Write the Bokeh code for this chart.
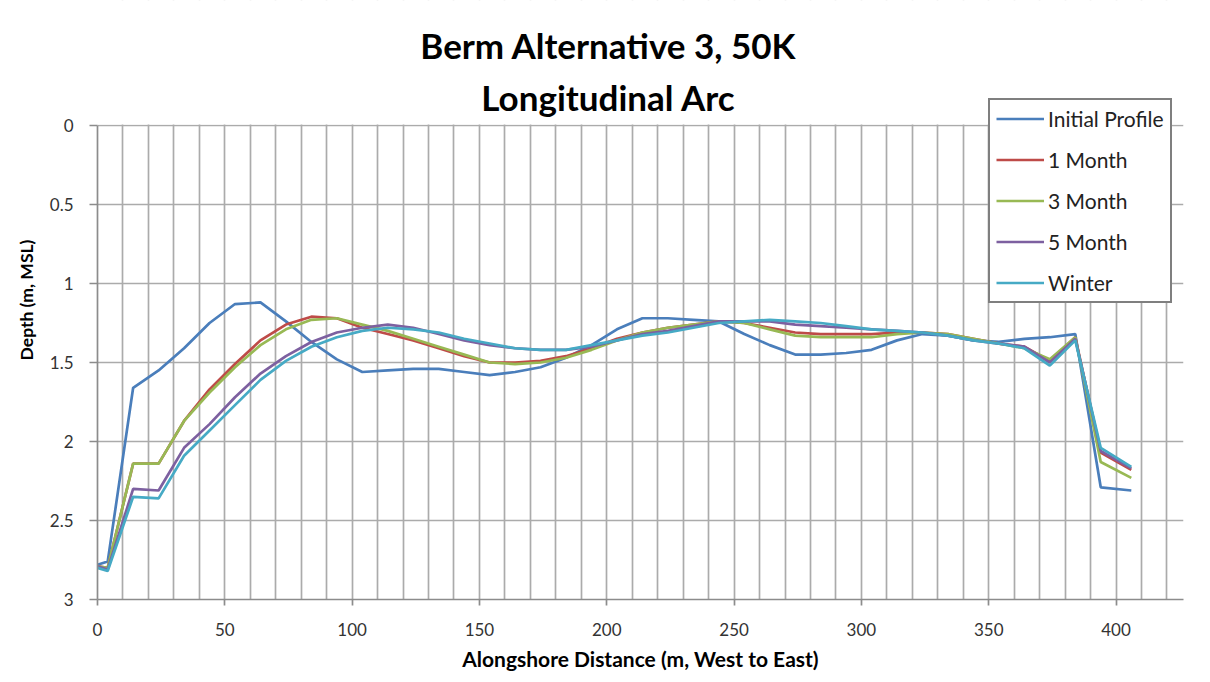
from bokeh.plotting import figure
from bokeh.models import (Range1d, FixedTicker, Label, Legend, LegendItem,
                          NumeralTickFormatter, BoxAnnotation)
from bokeh.embed import file_html
from bokeh.resources import INLINE

# ---- data ----
distance = [0, 4, 14, 24, 34, 44, 54, 64, 74, 84, 94, 104, 114, 124, 134, 144, 154, 164,
            174, 184, 194, 204, 214, 224, 234, 244, 254, 264, 274, 284, 294, 304, 314,
            324, 334, 344, 354, 364, 374, 384, 394, 406]

initial_profile = [2.78, 2.76, 1.66, 1.55, 1.41, 1.25, 1.13, 1.12, 1.24, 1.37, 1.48, 1.56,
                   1.55, 1.54, 1.54, 1.56, 1.58, 1.56, 1.53, 1.47, 1.39, 1.29, 1.22, 1.22,
                   1.23, 1.24, 1.32, 1.39, 1.45, 1.45, 1.44, 1.42, 1.36, 1.32, 1.33, 1.36,
                   1.37, 1.35, 1.34, 1.32, 2.29, 2.31]

month_1 = [2.79, 2.80, 2.14, 2.14, 1.87, 1.67, 1.51, 1.36, 1.26, 1.21, 1.22, 1.28, 1.32,
           1.36, 1.41, 1.46, 1.50, 1.50, 1.49, 1.46, 1.41, 1.35, 1.31, 1.28, 1.26, 1.24,
           1.25, 1.28, 1.31, 1.32, 1.32, 1.32, 1.31, 1.31, 1.32, 1.35, 1.38, 1.40, 1.49,
           1.34, 2.07, 2.18]

month_3 = [2.79, 2.80, 2.14, 2.14, 1.87, 1.69, 1.53, 1.39, 1.29, 1.23, 1.22, 1.26, 1.30,
           1.35, 1.40, 1.45, 1.50, 1.51, 1.50, 1.47, 1.42, 1.36, 1.31, 1.28, 1.26, 1.24,
           1.25, 1.29, 1.33, 1.34, 1.34, 1.34, 1.32, 1.31, 1.32, 1.35, 1.38, 1.41, 1.48,
           1.34, 2.13, 2.23]

month_5 = [2.79, 2.81, 2.30, 2.31, 2.04, 1.89, 1.72, 1.57, 1.46, 1.37, 1.31, 1.28, 1.26,
           1.28, 1.32, 1.36, 1.39, 1.41, 1.42, 1.42, 1.40, 1.36, 1.32, 1.30, 1.27, 1.24,
           1.24, 1.24, 1.26, 1.27, 1.28, 1.29, 1.30, 1.31, 1.33, 1.36, 1.38, 1.40, 1.50,
           1.35, 2.06, 2.17]

winter = [2.80, 2.82, 2.35, 2.36, 2.09, 1.93, 1.77, 1.61, 1.49, 1.40, 1.34, 1.30, 1.28,
          1.29, 1.31, 1.35, 1.38, 1.41, 1.42, 1.42, 1.39, 1.36, 1.33, 1.31, 1.28, 1.25,
          1.24, 1.23, 1.24, 1.25, 1.27, 1.29, 1.30, 1.31, 1.33, 1.36, 1.38, 1.41, 1.52,
          1.36, 2.04, 2.16]

series_names = ["Initial Profile", "1 Month", "3 Month", "5 Month", "Winter"]
series_values = [initial_profile, month_1, month_3, month_5, winter]
series_colors = ["#4A7EBB", "#BE4B48", "#98B954", "#7D60A0", "#46AAC5"]

x_ticks = [0, 50, 100, 150, 200, 250, 300, 350, 400]
x_grid = list(range(0, 421, 10))
y_ticks = [0, 0.5, 1, 1.5, 2, 2.5, 3]

title_lines = ["Berm Alternative 3, 50K", "Longitudinal Arc"]
x_title = "Alongshore Distance (m, West to East)"
y_title = "Depth (m, MSL)"

FONT = "Lato"

# frame extends to the top of the figure so that the title and legend live inside it;
# the part above depth 0 is masked white.
p = figure(width=1194, height=674, output_backend="svg", toolbar_location=None,
           x_range=Range1d(0, 426.5), y_range=Range1d(3, -0.7911),
           frame_width=1086, frame_height=599,
           min_border_left=97, min_border_right=11, min_border_top=0, min_border_bottom=75)
p.title = None
p.outline_line_color = None
p.background_fill_color = "white"
p.border_fill_color = "white"

# grids
p.xgrid.ticker = FixedTicker(ticks=x_grid)
p.ygrid.ticker = FixedTicker(ticks=y_ticks)
for g in (p.xgrid, p.ygrid):
    g.grid_line_color = "#ABABAB"
    g.grid_line_width = 1.7

# mask grid above depth 0
p.add_layout(BoxAnnotation(top=-0.9, bottom=-0.006, fill_color="white", fill_alpha=1.0,
                           line_color=None, level="underlay"))

# axes
p.xaxis.ticker = FixedTicker(ticks=x_ticks)
p.yaxis.ticker = FixedTicker(ticks=y_ticks)
p.yaxis.formatter = NumeralTickFormatter(format="0.[0]")
p.yaxis.bounds = (0, 3)
for ax in (p.xaxis, p.yaxis):
    ax.axis_line_color = "#8C8C8C"
    ax.axis_line_width = 1.7
    ax.major_tick_line_color = "#8C8C8C"
    ax.major_tick_line_width = 1.7
    ax.major_tick_in = 0
    ax.minor_tick_line_color = None
    ax.major_label_text_font = FONT
    ax.major_label_text_font_size = "17px"
    ax.major_label_text_color = "#333333"
    ax.axis_label_text_font = FONT
    ax.axis_label_text_font_style = "bold"
    ax.axis_label_text_color = "#000000"

p.xaxis.major_tick_out = 6
p.xaxis.major_label_standoff = 17
p.xaxis.axis_label = x_title
p.xaxis.axis_label_text_font_size = "21px"
p.xaxis.axis_label_standoff = 7

p.yaxis.major_tick_out = 8
p.yaxis.major_label_standoff = 16
p.yaxis.axis_label = y_title
p.yaxis.axis_label_text_font_size = "17.5px"
p.yaxis.axis_label_standoff = 10

# lines
items = []
for name, vals, col in zip(series_names, series_values, series_colors):
    r = p.line(distance, vals, line_color=col, line_width=2.7)
    items.append(LegendItem(label=name, renderers=[r]))

legend = Legend(items=items, location=(891, 296))
legend.border_line_color = "#000000"
legend.border_line_width = 2
legend.background_fill_color = "white"
legend.background_fill_alpha = 1.0
legend.label_text_font = FONT
legend.label_text_font_size = "21px"
legend.label_text_color = "#222222"
legend.glyph_width = 48
legend.glyph_height = 25
legend.label_height = 25
legend.label_standoff = 4
legend.spacing = 16
legend.padding = 6
legend.margin = 0
p.add_layout(legend)

# title (two lines, centred over the chart area)
p.add_layout(Label(x=200.7, y=-0.51, text=title_lines[0], text_align="center",
                   text_baseline="middle", text_font=FONT, text_font_style="bold",
                   text_font_size="35px", text_color="#000000"))
p.add_layout(Label(x=200.7, y=-0.18, text=title_lines[1], text_align="center",
                   text_baseline="middle", text_font=FONT, text_font_style="bold",
                   text_font_size="35px", text_color="#000000"))

open("out.html", "w").write(file_html(p, INLINE))
